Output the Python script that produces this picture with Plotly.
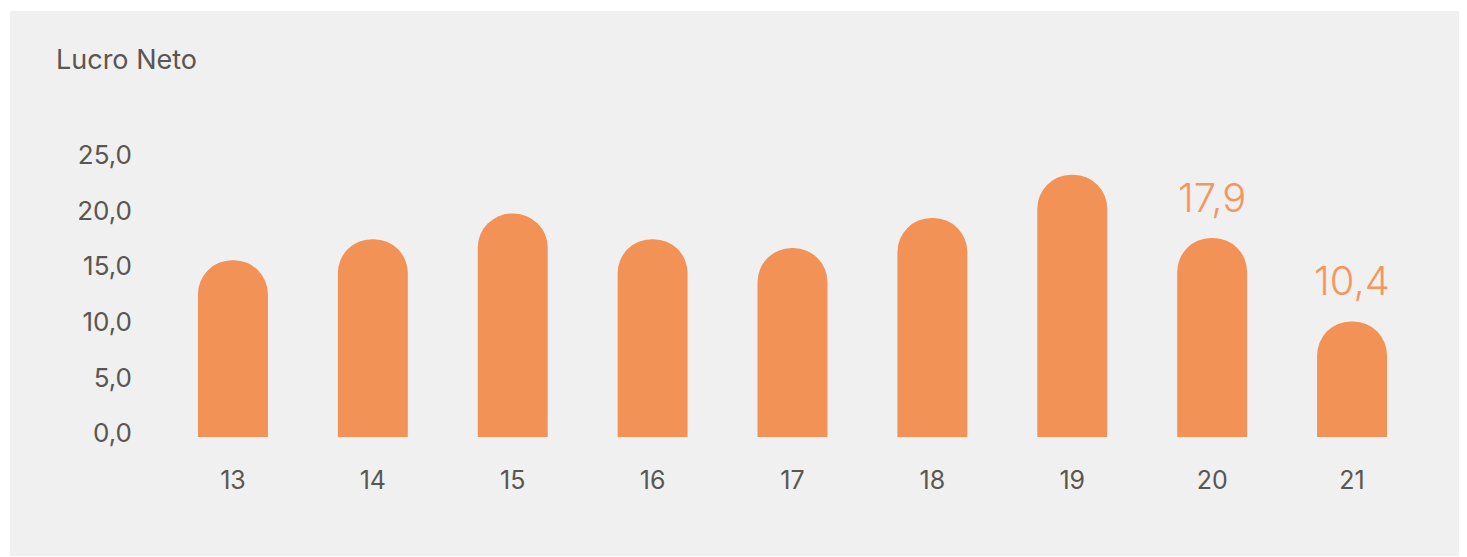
import plotly.graph_objects as go

anos = ["13", "14", "15", "16", "17", "18", "19", "20", "21"]
lucro = [15.9, 17.8, 20.1, 17.8, 17.0, 19.7, 23.6, 17.9, 10.4]
rotulos = ["", "", "", "", "", "", "", "17,9", "10,4"]
ticks_y = [0, 5, 10, 15, 20, 25]
ticks_y_txt = ["0,0", "5,0", "10,0", "15,0", "20,0", "25,0"]

laranja = "#f29256"
cinza_txt = "#5a5651"
fundo = "#f0f0f0"
fonte = "Inter"

fig = go.Figure()

fig.add_trace(go.Bar(
    x=anos, y=lucro,
    marker=dict(color=laranja, cornerradius="50%", line=dict(width=0)),
    hoverinfo="skip",
))

# rotulos dos dois ultimos anos (eixo categorico -> posicao pelo indice)
for i, (v, t) in enumerate(zip(lucro, rotulos)):
    if t:
        fig.add_annotation(x=i, y=v, text=t, showarrow=False, yanchor="bottom", yshift=14,
                           font=dict(family=fonte, size=40, color="#f7965c", weight=300))

# painel cinza de fundo
fig.add_shape(type="rect", xref="paper", yref="paper", x0=-0.1215, x1=1.05, y0=-0.412, y1=1.474,
              fillcolor=fundo, line_width=0, layer="below")

fig.update_layout(
    width=1467, height=557,
    margin=dict(l=155, r=53, t=140, b=128),
    paper_bgcolor="white",
    plot_bgcolor=fundo,
    bargap=0.5,
    showlegend=False,
    font=dict(family=fonte, color=cinza_txt),
    title=dict(text="Lucro Neto", xref="container", x=0.0327, xanchor="left",
               yref="container", y=0.9066, yanchor="middle",
               font=dict(family=fonte, size=27, color=cinza_txt)),
    xaxis=dict(type="category", showgrid=False, zeroline=False, showline=False, ticks="",
               tickfont=dict(size=25, color=cinza_txt), ticklabelstandoff=26),
    yaxis=dict(range=[0, 26], showgrid=False, zeroline=False, showline=False, ticks="",
               tickvals=ticks_y, ticktext=ticks_y_txt,
               tickfont=dict(size=26, color=cinza_txt), ticklabelstandoff=30, ticklabelshift=-4),
)

fig.write_html("out.html")
